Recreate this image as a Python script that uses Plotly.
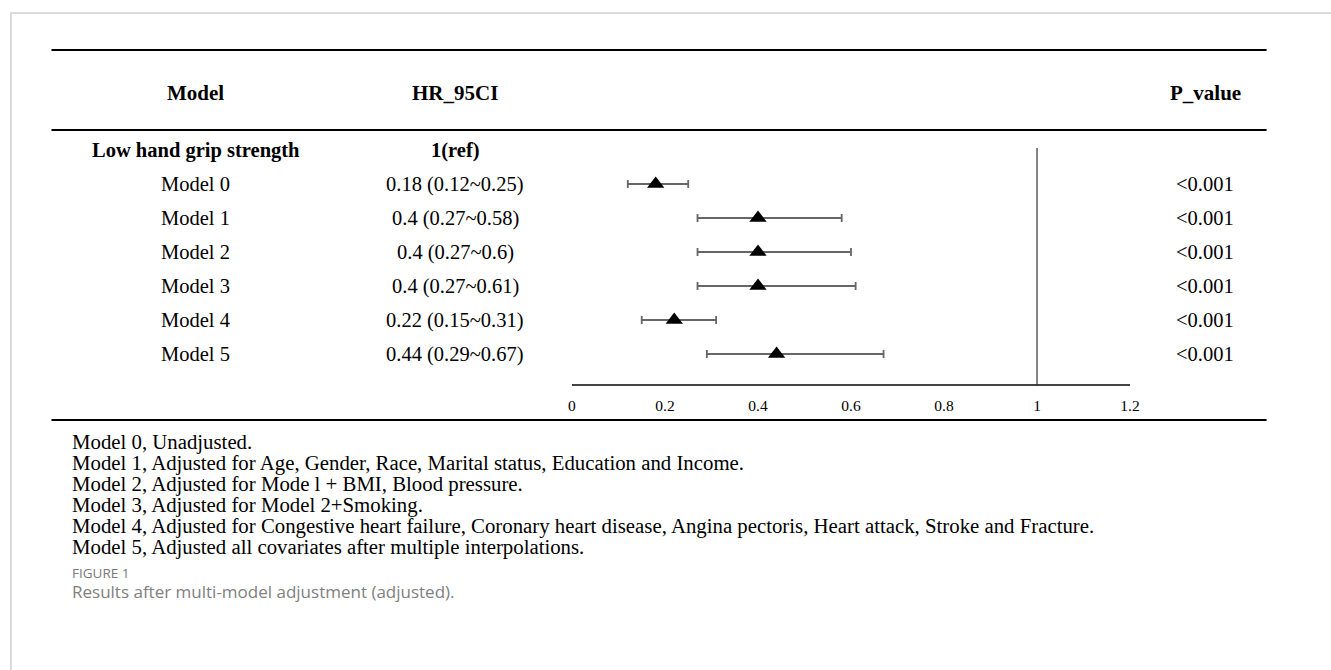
import plotly.graph_objects as go

W, H = 1331, 670

# ---------------- data ----------------
row_labels = ["Low hand grip strength", "Model 0", "Model 1", "Model 2", "Model 3", "Model 4", "Model 5"]
hr_labels = ["1(ref)", "0.18 (0.12~0.25)", "0.4 (0.27~0.58)", "0.4 (0.27~0.6)",
             "0.4 (0.27~0.61)", "0.22 (0.15~0.31)", "0.44 (0.29~0.67)"]
p_labels = ["", "<0.001", "<0.001", "<0.001", "<0.001", "<0.001", "<0.001"]
model_rows = [1, 2, 3, 4, 5, 6]
hr_values = [0.18, 0.4, 0.4, 0.4, 0.22, 0.44]
ci_low = [0.12, 0.27, 0.27, 0.27, 0.15, 0.29]
ci_high = [0.25, 0.58, 0.6, 0.61, 0.31, 0.67]
ref_value = 1
tick_values = [0, 0.2, 0.4, 0.6, 0.8, 1, 1.2]
tick_labels = ["0", "0.2", "0.4", "0.6", "0.8", "1", "1.2"]
headers = ["Model", "HR_95CI", "P_value"]
footnotes = [
    "Model 0, Unadjusted.",
    "Model 1, Adjusted for Age, Gender, Race, Marital status, Education and Income.",
    "Model 2, Adjusted for Mode l + BMI, Blood pressure.",
    "Model 3, Adjusted for Model 2+Smoking.",
    "Model 4, Adjusted for Congestive heart failure, Coronary heart disease, Angina pectoris, Heart attack, Stroke and Fracture.",
    "Model 5, Adjusted all covariates after multiple interpolations.",
]
caption_label = "FIGURE 1"
caption_text = "Results after multi-model adjustment (adjusted)."

# ---------------- layout helpers ----------------
SERIF = "Liberation Serif"
SANS = "Open Sans"
ROW0_PX, ROW_STEP = 150, 34
BODY = 20.5
HEAD = 21


def px_x(p):
    return p / W


def px_y(p):
    return 1 - p / H


def row_of_px(p):
    return (p - ROW0_PX) / ROW_STEP


col_x = [194, 456, 1214]
AXIS_PX = 385

fig = go.Figure()

fig.add_trace(go.Scatter(
    x=hr_values, y=model_rows, mode="markers",
    marker=dict(symbol="triangle-up", size=15, color="black"),
    error_x=dict(type="data", symmetric=False,
                 array=[h - m for h, m in zip(ci_high, hr_values)],
                 arrayminus=[m - l for m, l in zip(hr_values, ci_low)],
                 color="#666666", thickness=1.8, width=4),
    cliponaxis=False, showlegend=False, hoverinfo="skip",
))

annotations = []
for i, h in enumerate(headers):
    annotations.append(dict(text=f"<b>{h}</b>", x=px_x(col_x[i]), y=px_y(93), xref="paper", yref="paper",
                            xanchor="center", yanchor="middle", showarrow=False,
                            font=dict(family=SERIF, size=HEAD, color="black")))
for i, lab in enumerate(row_labels):
    bold = i == 0
    annotations.append(dict(text=f"<b>{lab}</b>" if bold else lab, x=px_x(col_x[0]), y=i, xref="paper", yref="y",
                            xanchor="center", yanchor="middle", showarrow=False,
                            font=dict(family=SERIF, size=BODY, color="black")))
    annotations.append(dict(text=f"<b>{hr_labels[i]}</b>" if bold else hr_labels[i], x=px_x(col_x[1]), y=i,
                            xref="paper", yref="y", xanchor="center", yanchor="middle", showarrow=False,
                            font=dict(family=SERIF, size=BODY, color="black")))
    if p_labels[i]:
        annotations.append(dict(text=p_labels[i], x=px_x(col_x[2]), y=i, xref="paper", yref="y",
                                xanchor="center", yanchor="middle", showarrow=False,
                                font=dict(family=SERIF, size=BODY, color="black")))
for k, line in enumerate(footnotes):
    annotations.append(dict(text=line, x=px_x(67), y=px_y(442 + 21 * k), xref="paper", yref="paper",
                            xanchor="left", yanchor="middle", showarrow=False,
                            font=dict(family=SERIF, size=20.8, color="black")))
annotations.append(dict(text=caption_label, x=px_x(67), y=px_y(573), xref="paper", yref="paper",
                        xanchor="left", yanchor="middle", showarrow=False,
                        font=dict(family=SANS, size=13.5, color="#7a7a7a")))
annotations.append(dict(text=caption_text, x=px_x(67), y=px_y(591), xref="paper", yref="paper",
                        xanchor="left", yanchor="middle", showarrow=False,
                        font=dict(family=SANS, size=17, color="#808080")))

shapes = []
# outer frame
shapes.append(dict(type="rect", xref="paper", yref="paper", x0=px_x(7), x1=1.05, y0=-0.05, y1=px_y(13),
                   line=dict(color="#cfcfcf", width=1.5), fillcolor="rgba(0,0,0,0)", layer="below"))
# table rules
for ypx in (50, 130, 420):
    shapes.append(dict(type="line", xref="paper", yref="paper", x0=px_x(48), x1=px_x(1276),
                       y0=px_y(ypx), y1=px_y(ypx), line=dict(color="black", width=2)))
# reference line
shapes.append(dict(type="line", xref="x", yref="y", x0=ref_value, x1=ref_value,
                   y0=row_of_px(148), y1=row_of_px(AXIS_PX), line=dict(color="#333333", width=1.2)))

fig.update_layout(
    width=W, height=H, margin=dict(l=0, r=0, t=0, b=0),
    paper_bgcolor="white", plot_bgcolor="rgba(0,0,0,0)",
    showlegend=False,
    xaxis=dict(domain=[px_x(574), px_x(1138)], range=[0, 1.2], anchor="free", position=px_y(AXIS_PX),
               showline=True, linecolor="#444444", linewidth=1.5, showgrid=False, zeroline=False,
               tickvals=tick_values, ticktext=tick_labels, ticks="", ticklabelstandoff=7,
               tickfont=dict(family=SERIF, size=15.5, color="black")),
    yaxis=dict(domain=[0, 1], range=[row_of_px(H), row_of_px(0)], visible=False,
               showgrid=False, zeroline=False),
    annotations=annotations, shapes=shapes,
)

fig.write_html("out.html")
